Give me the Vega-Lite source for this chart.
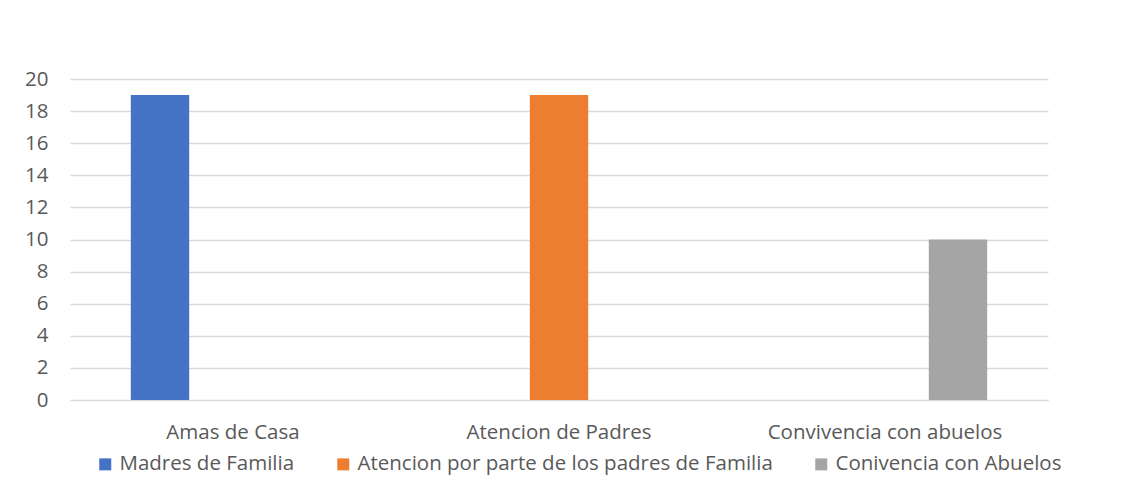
{
  "$schema": "https://vega.github.io/schema/vega-lite/v6.json",
  "autosize": "none",
  "width": 978,
  "height": 321,
  "padding": {"left": 70, "top": 79, "right": 93, "bottom": 99},
  "background": "white",
  "data": {"values": [
    {"categoria": "Amas de Casa", "serie": "Madres de Familia", "valor": 19},
    {"categoria": "Atencion de Padres", "serie": "Atencion por parte de los padres de Familia", "valor": 19},
    {"categoria": "Convivencia con abuelos", "serie": "Conivencia con Abuelos", "valor": 10}
  ]},
  "mark": {"type": "bar"},
  "encoding": {
    "x": {"field": "categoria", "type": "nominal", "sort": null,
      "scale": {"paddingInner": 0, "paddingOuter": 0},
      "axis": {"title": null, "labelAngle": 0, "ticks": false, "domain": true, "domainColor": "#d9d9d9", "labelPadding": 32, "labelBaseline": "middle", "labelLimit": 400, "labelFont": "Open Sans", "labelFontSize": 20.5, "labelColor": "#595959"}},
    "xOffset": {"field": "serie", "type": "nominal",
      "sort": ["Madres de Familia", "Atencion por parte de los padres de Familia", "Conivencia con Abuelos"],
      "scale": {"paddingInner": 0.2, "paddingOuter": 0.833}},
    "y": {"field": "valor", "type": "quantitative",
      "scale": {"domain": [0, 20], "nice": false},
      "axis": {"title": null, "values": [0,2,4,6,8,10,12,14,16,18,20], "domain": false, "ticks": false, "gridColor": "#d9d9d9", "gridWidth": 1.3, "labelPadding": 22, "labelFont": "Open Sans", "labelFontSize": 20.5, "labelColor": "#595959"}},
    "color": {"field": "serie", "type": "nominal",
      "sort": ["Madres de Familia", "Atencion por parte de los padres de Familia", "Conivencia con Abuelos"],
      "scale": {"domain": ["Madres de Familia", "Atencion por parte de los padres de Familia", "Conivencia con Abuelos"], "range": ["#4472c4", "#ed7d31", "#a5a5a5"]},
      "legend": {"title": null, "orient": "none", "direction": "horizontal", "legendX": 25, "legendY": 375, "symbolType": "square", "symbolSize": 144, "symbolStrokeWidth": 0, "symbolOpacity": 1, "labelFont": "Open Sans", "labelFontSize": 20.5, "labelLimit": 600, "labelColor": "#595959", "labelOffset": 4, "columnPadding": 38}}
  },
  "config": {"view": {"stroke": null}}
}
